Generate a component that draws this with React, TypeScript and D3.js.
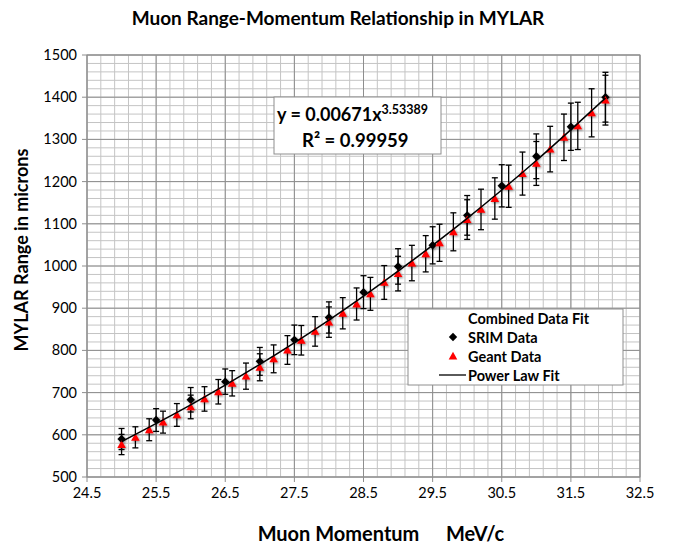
import React from "react";
import * as d3 from "d3";

const title = "Muon Range-Momentum Relationship in MYLAR";
const yLabel = "MYLAR Range in microns";
const xLabelA = "Muon Momentum";
const xLabelB = "MeV/c";

const xTicks = [24.5, 25.5, 26.5, 27.5, 28.5, 29.5, 30.5, 31.5, 32.5];
const yTicks = [500, 600, 700, 800, 900, 1000, 1100, 1200, 1300, 1400, 1500];

const srimX = [25, 25.5, 26, 26.5, 27, 27.5, 28, 28.5, 29, 29.5, 30, 30.5, 31, 31.5, 32];
const srimY = [590, 635, 683, 726, 774, 825, 878, 938, 999, 1049, 1120, 1190, 1260, 1330, 1400];
const srimErr = [25, 27, 29, 30, 33, 35, 37, 39, 42, 44, 47, 50, 53, 56, 59];

const geantX = [25, 25.2, 25.4, 25.6, 25.8, 26, 26.2, 26.4, 26.6, 26.8, 27, 27.2, 27.4, 27.6, 27.8, 28, 28.2, 28.4, 28.6, 28.8,
  29, 29.2, 29.4, 29.6, 29.8, 30, 30.2, 30.4, 30.6, 30.8, 31, 31.2, 31.4, 31.6, 31.8, 32];
const geantY = [577, 594, 612, 630, 647, 666, 685, 702, 722, 739, 760, 780, 801, 824, 845, 867, 888, 910, 934, 961,
  982, 1007, 1029, 1055, 1081, 1110, 1134, 1160, 1189, 1219, 1243, 1277, 1305, 1332, 1363, 1393];
const geantErr = [24, 25, 26, 26, 27, 28, 29, 29, 30, 31, 32, 33, 34, 35, 35, 36, 37, 38, 39, 40,
  41, 42, 43, 44, 45, 47, 48, 49, 50, 51, 52, 54, 55, 56, 57, 59];

const fitX = [25, 26, 27, 28, 29, 30, 31, 32];
const fitY = [584, 671, 767, 872, 988, 1113, 1250, 1398];

const equationMain = "y = 0.00671x";
const equationExp = "3.53389";
const rSquared = "R² = 0.99959";

const legendItems = ["Combined Data Fit", "SRIM Data", "Geant Data", "Power Law Fit"];

const FONT = "Lato, 'Open Sans', sans-serif";

export default function App() {
  const left = 87, right = 640, top = 55, bottom = 477;
  const x = d3.scaleLinear().domain([24.5, 32.5]).range([left, right]);
  const y = d3.scaleLinear().domain([500, 1500]).range([bottom, top]);

  const minorX = d3.range(24.5, 32.5001, 0.2).map((v) => +v.toFixed(2));
  const minorY = d3.range(500, 1500.001, 20);

  const fitLine = d3.line<number>()
    .x((_, i) => x(fitX[i]))
    .y((d) => y(d))
    .curve(d3.curveMonotoneX)(fitY) || "";

  const diamond = "M0,-4.2L4.2,0L0,4.2L-4.2,0Z";
  const triangle = "M0,-4.2L4.3,3.4L-4.3,3.4Z";

  const errBar = (cx: number, v: number, e: number, key: string) => {
    const x0 = x(cx), y1 = y(v + e), y2 = y(v - e);
    return (
      <g key={key} stroke="#000" strokeWidth={1.3}>
        <line x1={x0} x2={x0} y1={y1} y2={y2} />
        <line x1={x0 - 3} x2={x0 + 3} y1={y1} y2={y1} />
        <line x1={x0 - 3} x2={x0 + 3} y1={y2} y2={y2} />
      </g>
    );
  };

  const lgX = 408, lgY = 309;

  return (
    <svg width={675} height={548} style={{ position: "absolute", left: 0, top: 0, background: "#fff" }}
      fontFamily={FONT}>
      <defs>
        <filter id="shadow" x="-50%" y="-50%" width="200%" height="200%">
          <feDropShadow dx={1.2} dy={1.2} stdDeviation={0.9} floodColor="#000" floodOpacity={0.45} />
        </filter>
      </defs>
      <rect x={0} y={0} width={675} height={548} fill="#fff" />

      <text x={338} y={25} textAnchor="middle" fontSize={19} fontWeight="bold">{title}</text>

      {/* grid */}
      {minorX.map((v, i) => (
        <line key={"mx" + i} x1={x(v)} x2={x(v)} y1={top} y2={bottom} stroke="#c4c4c4" strokeWidth={1} />
      ))}
      {minorY.map((v, i) => (
        <line key={"my" + i} x1={left} x2={right} y1={y(v)} y2={y(v)} stroke="#c4c4c4" strokeWidth={1} />
      ))}
      {xTicks.map((v, i) => (
        <line key={"gx" + i} x1={x(v)} x2={x(v)} y1={top} y2={bottom} stroke="#8e8e8e" strokeWidth={1} />
      ))}
      {yTicks.map((v, i) => (
        <line key={"gy" + i} x1={left} x2={right} y1={y(v)} y2={y(v)} stroke="#8e8e8e" strokeWidth={1} />
      ))}
      <rect x={left} y={top} width={right - left} height={bottom - top} fill="none" stroke="#8e8e8e" strokeWidth={1} />

      {/* axes ticks */}
      {yTicks.map((v, i) => (
        <g key={"yt" + i}>
          <line x1={left - 5} x2={left} y1={y(v)} y2={y(v)} stroke="#8e8e8e" />
          <text x={left - 10} y={y(v) + 5} textAnchor="end" fontSize={14.5}>{v}</text>
        </g>
      ))}
      {xTicks.map((v, i) => (
        <g key={"xt" + i}>
          <line x1={x(v)} x2={x(v)} y1={bottom} y2={bottom + 5} stroke="#8e8e8e" />
          <text x={x(v)} y={bottom + 21} textAnchor="middle" fontSize={14.5}>{v.toFixed(1)}</text>
        </g>
      ))}

      {/* axis labels */}
      <text transform={`translate(28,250) rotate(-90)`} textAnchor="middle" fontSize={18} fontWeight="bold">{yLabel}</text>
      <text x={338.5} y={541} textAnchor="middle" fontSize={20} fontWeight="bold">{xLabelA}</text>
      <text x={446} y={541} textAnchor="start" fontSize={20} fontWeight="bold">{xLabelB}</text>

      {/* error bars */}
      {srimX.map((v, i) => errBar(v, srimY[i], srimErr[i], "se" + i))}
      {geantX.map((v, i) => errBar(v, geantY[i], geantErr[i], "ge" + i))}

      {/* markers */}
      <g filter="url(#shadow)">
        {srimX.map((v, i) => (
          <path key={"sd" + i} d={diamond} transform={`translate(${x(v)},${y(srimY[i])})`} fill="#000" />
        ))}
        {geantX.map((v, i) => (
          <path key={"gd" + i} d={triangle} transform={`translate(${x(v)},${y(geantY[i])})`} fill="#ff0000" />
        ))}
      </g>

      {/* fit line */}
      <path d={fitLine} fill="none" stroke="#000" strokeWidth={1.5} />

      {/* equation box */}
      <rect x={274} y={97} width={167} height={57} fill="#fff" stroke="#8e8e8e" strokeWidth={1} />
      <text x={277} y={121} fontSize={18} fontWeight="bold">
        {equationMain}
        <tspan fontSize={12.5} dy={-7}>{equationExp}</tspan>
      </text>
      <text x={302} y={147} fontSize={18.5} fontWeight="bold">{rSquared}</text>

      {/* legend */}
      <rect x={lgX} y={lgY} width={215} height={76} fill="#fff" stroke="#8e8e8e" strokeWidth={1} />
      {legendItems.map((t, i) => (
        <text key={"lg" + i} x={468} y={lgY + 14.5 + i * 19} fontSize={14.5} fontWeight="bold">{t}</text>
      ))}
      <path d={diamond} transform={`translate(453,${lgY + 28})`} fill="#000" />
      <path d={triangle} transform={`translate(453,${lgY + 47})`} fill="#ff0000" />
      <line x1={439} x2={466} y1={lgY + 66} y2={lgY + 66} stroke="#000" strokeWidth={1.3} />
    </svg>
  );
}
